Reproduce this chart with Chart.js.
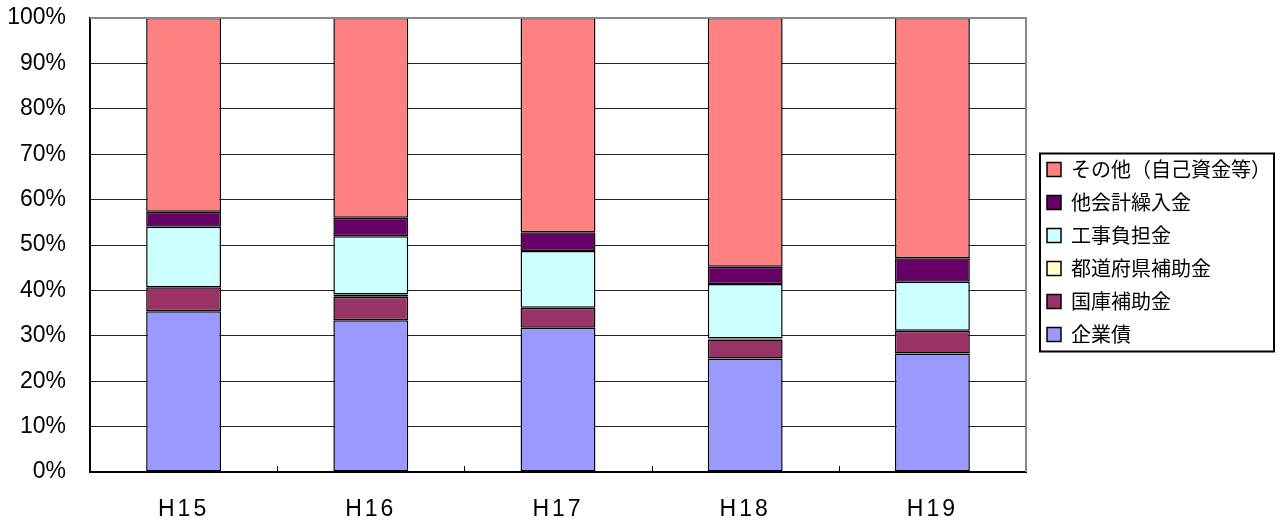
<!DOCTYPE html>
<html>
<head>
<meta charset="utf-8">
<script src="https://cdn.jsdelivr.net/npm/chart.js@4"></script>
<style>
  html, body { margin: 0; padding: 0; background: #fff; }
  #wrap { width: 1281px; height: 525px; }
</style>
</head>
<body>
<div id="wrap"><canvas id="grafico" width="1281" height="525"></canvas></div>
<script>
// 年度
var categorias = ['H15', 'H16', 'H17', 'H18', 'H19'];
// 財源の構成比（%）
var kigyosai = [35.4, 33.4, 31.8, 25.0, 26.1];   // 企業債
var kokko = [5.3, 5.2, 4.4, 4.2, 5.0];           // 国庫補助金
var todofuken = [0, 0.5, 0, 0.2, 0];             // 都道府県補助金
var koji = [13.3, 12.8, 12.5, 12.0, 10.8];       // 工事負担金
var takaikei = [3.3, 4.1, 4.1, 3.8, 5.2];        // 他会計繰入金
var sonota = [42.7, 44.0, 47.2, 54.8, 52.9];     // その他（自己資金等）
var marcas = [0, 10, 20, 30, 40, 50, 60, 70, 80, 90, 100];

var fuenteNum = '"Liberation Sans", Arial, sans-serif';
var fuenteJp = '"Noto Sans CJK JP", sans-serif';

function serie(label, data, color) {
    return {
        label: label,
        data: data,
        backgroundColor: color,
        borderColor: '#000',
        borderWidth: 1.5,
        borderSkipped: false,
        categoryPercentage: 1.0,
        barPercentage: 0.4
    };
}

// marco de la leyenda, borde derecho y marcas del eje x
var decorado = {
    id: 'decorado',
    afterLayout: function (chart) {
        // leyenda centrada un poco más arriba y a la derecha, como en el original
        var lg = chart.legend;
        var h = lg.bottom - lg.top;
        lg.top = 252 - h / 2;
        lg.bottom = lg.top + h;
        lg.left += 8;
        lg.right += 8;
    },
    afterDatasetsDraw: function (chart) {
        var ctx = chart.ctx;
        var a = chart.chartArea;
        var x = chart.scales.x;
        ctx.save();
        ctx.strokeStyle = '#888';
        ctx.lineWidth = 2;
        ctx.beginPath();
        ctx.moveTo(a.left, a.top);
        ctx.lineTo(a.right, a.top);
        ctx.lineTo(a.right, a.bottom);
        ctx.stroke();
        ctx.strokeStyle = '#000';
        ctx.lineWidth = 1;
        for (var i = 1; i < categorias.length; i++) {
            var px = Math.round((x.getPixelForValue(i - 1) + x.getPixelForValue(i)) / 2) + 0.5;
            ctx.beginPath();
            ctx.moveTo(px, a.bottom);
            ctx.lineTo(px, a.bottom - 6);
            ctx.stroke();
        }
        ctx.restore();
    },
    afterDraw: function (chart) {
        var ctx = chart.ctx;
        var cajas = chart.legend.legendHitBoxes;
        if (!cajas || !cajas.length) return;
        var ult = cajas[cajas.length - 1];
        var top = cajas[0].top - 6;
        var bottom = ult.top + ult.height + 7;
        ctx.save();
        ctx.strokeStyle = '#000';
        ctx.lineWidth = 2;
        ctx.strokeRect(1040, top, 234, bottom - top);
        ctx.restore();
    }
};

document.addEventListener('DOMContentLoaded', function () {
    var canvas = document.getElementById('grafico');

    var datos = {
        labels: categorias,
        datasets: [
            serie('企業債', kigyosai, '#9999FF'),
            serie('国庫補助金', kokko, '#993366'),
            serie('都道府県補助金', todofuken, '#FFFFCC'),
            serie('工事負担金', koji, '#CCFFFF'),
            serie('他会計繰入金', takaikei, '#660066'),
            serie('その他（自己資金等）', sonota, '#FF8080')
        ]
    };

    var configuracion = {
        type: 'bar',
        data: datos,
        plugins: [decorado],
        options: {
            responsive: false,
            animation: false,
            layout: { padding: { top: 0, right: 8, left: 0, bottom: 0 } },
            plugins: {
                tooltip: { enabled: false },
                legend: {
                    position: 'right',
                    reverse: true,
                    labels: {
                        font: { family: fuenteJp, size: 20 },
                        color: '#000',
                        boxWidth: 14,
                        boxHeight: 14,
                        padding: 13
                    }
                }
            },
            scales: {
                x: {
                    stacked: true,
                    offset: true,
                    grid: { display: false, drawTicks: false },
                    border: { color: '#000', width: 2 },
                    ticks: {
                        font: { family: fuenteNum, size: 23 },
                        color: '#000',
                        padding: 24
                    },
                    afterFit: function (scale) {
                        scale.height = 53;
                        if (!scale._espaciado) {
                            var original = scale.drawLabels;
                            scale.drawLabels = function (area) {
                                this.ctx.save();
                                this.ctx.letterSpacing = '3px';
                                original.call(this, area);
                                this.ctx.restore();
                            };
                            scale._espaciado = true;
                        }
                    }
                },
                y: {
                    stacked: true,
                    min: 0,
                    max: 100,
                    afterBuildTicks: function (scale) {
                        scale.ticks = marcas.map(function (v) { return { value: v }; });
                    },
                    grid: {
                        color: function (c) { return c.tick && c.tick.value === 100 ? '#888' : '#222'; },
                        lineWidth: 1,
                        drawTicks: false
                    },
                    border: { color: '#000', width: 2 },
                    ticks: {
                        font: { family: fuenteNum, size: 23 },
                        color: '#000',
                        padding: 24,
                        callback: function (v) { return v + '%'; }
                    },
                    afterFit: function (scale) {
                        scale.width = 90;
                        scale.paddingTop = 18;
                        scale.paddingBottom = 14;
                    }
                }
            }
        }
    };

    var miGrafico = new Chart(canvas, configuracion);
});
</script>
</body>
</html>
